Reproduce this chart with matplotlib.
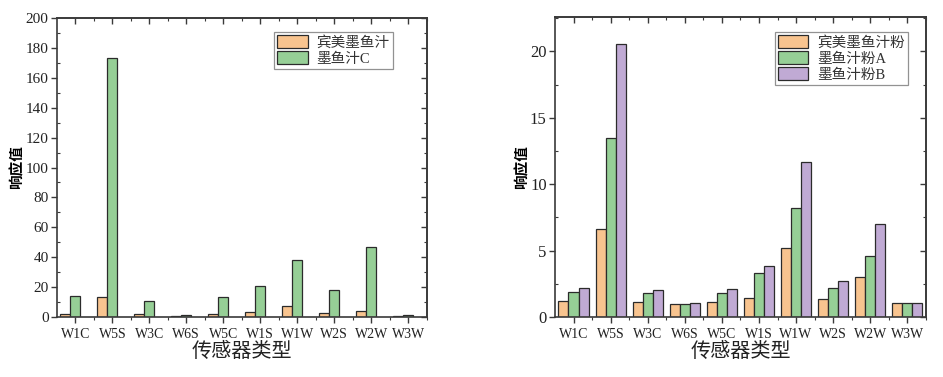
import numpy as np
import matplotlib
matplotlib.use('Agg')
import matplotlib.pyplot as plt

plt.rcParams['font.family'] = ['Liberation Serif', 'Noto Sans CJK SC']

sensors = ['W1C', 'W5S', 'W3C', 'W6S', 'W5C', 'W1S', 'W1W', 'W2S', 'W2W', 'W3W']

# left panel
left_names = ['宾美墨鱼汁', '墨鱼汁C']
left_binmei = [2.2, 13.2, 1.8, 0.9, 2.0, 3.4, 7.6, 2.7, 4.2, 0.9]
left_juice_c = [13.9, 173.2, 11.0, 1.3, 13.4, 21.0, 37.8, 18.3, 46.7, 1.5]

# right panel
right_names = ['宾美墨鱼汁粉', '墨鱼汁粉A', '墨鱼汁粉B']
right_binmei = [1.2, 6.6, 1.13, 1.0, 1.13, 1.43, 5.18, 1.38, 3.0, 1.06]
right_powder_a = [1.9, 13.5, 1.8, 1.0, 1.84, 3.3, 8.18, 2.2, 4.63, 1.06]
right_powder_b = [2.15, 20.55, 2.0, 1.08, 2.14, 3.85, 11.67, 2.7, 7.02, 1.06]

ORANGE = '#F8C48F'
GREEN = '#96CF96'
PURPLE = '#C0AAD4'
EDGE = '#2b2b2b'
SPINE = '#3a3a3a'
cjk = ['Noto Sans CJK SC', 'DejaVu Sans']


def style_axis(ax, ymax, ymajor, yminor, ytick_size):
    x = np.arange(len(sensors))
    ax.set_xlim(-0.5, 9.5)
    ax.set_ylim(0, ymax)
    ax.set_xticks(x)
    ax.set_xticklabels(sensors, fontsize=10, color='#222222')
    ax.set_xticks(x + 0.5, minor=True)
    ax.set_yticks(np.arange(0, ymax + 0.01, ymajor))
    ax.set_yticks(np.arange(0, ymax + 0.01, yminor), minor=True)
    ax.tick_params(axis='y', which='major', labelsize=ytick_size, labelcolor='#222222',
                   direction='out', length=4, width=1, color=SPINE, pad=2)
    ax.tick_params(axis='y', which='minor', direction='in', length=2.5, width=0.8, color=SPINE)
    ax.tick_params(axis='x', which='major', direction='out', length=4, width=1, color=SPINE, pad=4)
    ax.tick_params(axis='x', which='minor', direction='out', length=2.5, width=0.8, color=SPINE)
    for s in ax.spines.values():
        s.set_color(SPINE)
        s.set_linewidth(1.2)
    # mirrored ticks on top and right, pointing in
    top = ax.secondary_xaxis('top')
    top.set_xticks(x)
    top.set_xticks(x + 0.5, minor=True)
    top.tick_params(which='major', direction='in', length=4, width=1, color=SPINE, labeltop=False)
    top.tick_params(which='minor', direction='in', length=2.5, width=0.8, color=SPINE)
    right = ax.secondary_yaxis('right')
    right.set_yticks(np.arange(0, ymax + 0.01, ymajor))
    right.set_yticks(np.arange(0, ymax + 0.01, yminor), minor=True)
    right.tick_params(which='major', direction='in', length=4, width=1, color=SPINE, labelright=False)
    right.tick_params(which='minor', direction='in', length=2.5, width=0.8, color=SPINE)
    for sa in (top, right):
        for s in sa.spines.values():
            s.set_color(SPINE)
            s.set_linewidth(1.2)
    ax.set_xlabel('传感器类型', family=cjk, fontsize=14.5, color='#222222', labelpad=0)
    ax.set_ylabel('响应值', family=cjk, fontsize=10.5, fontweight='bold')


fig = plt.figure(figsize=(9.43, 3.77), dpi=100)
ax1 = fig.add_axes([0.0604, 0.1592, 0.392, 0.793])
ax2 = fig.add_axes([0.5885, 0.1592, 0.3934, 0.796])

x = np.arange(len(sensors))
w = 0.27

ax1.bar(x - 0.15 - w / 2, left_binmei, w, color=ORANGE, edgecolor=EDGE, linewidth=0.9, label=left_names[0])
ax1.bar(x - 0.15 + w / 2, left_juice_c, w, color=GREEN, edgecolor=EDGE, linewidth=0.9, label=left_names[1])
style_axis(ax1, 200, 20, 10, 11)
ax1.yaxis.set_label_coords(-0.089, 0.5)

ax2.bar(x - w, right_binmei, w, color=ORANGE, edgecolor=EDGE, linewidth=0.9, label=right_names[0])
ax2.bar(x, right_powder_a, w, color=GREEN, edgecolor=EDGE, linewidth=0.9, label=right_names[1])
ax2.bar(x + w, right_powder_b, w, color=PURPLE, edgecolor=EDGE, linewidth=0.9, label=right_names[2])
style_axis(ax2, 22.6, 5, 2.5, 12)
ax2.yaxis.set_label_coords(-0.07, 0.5)

for ax, anchor in ((ax1, (0.908, 0.953)), (ax2, (0.951, 0.95))):
    leg = ax.legend(loc='upper right', bbox_to_anchor=anchor, fontsize=10.5,
                    fancybox=False, frameon=True, edgecolor='#777777',
                    handlelength=2.1, handleheight=1.0, labelspacing=0.12,
                    handletextpad=0.6, borderpad=0.2, borderaxespad=0)
    leg.get_frame().set_linewidth(0.9)
    for t in leg.get_texts():
        t.set_color('#333333')

fig.savefig('out.png', dpi=100)
